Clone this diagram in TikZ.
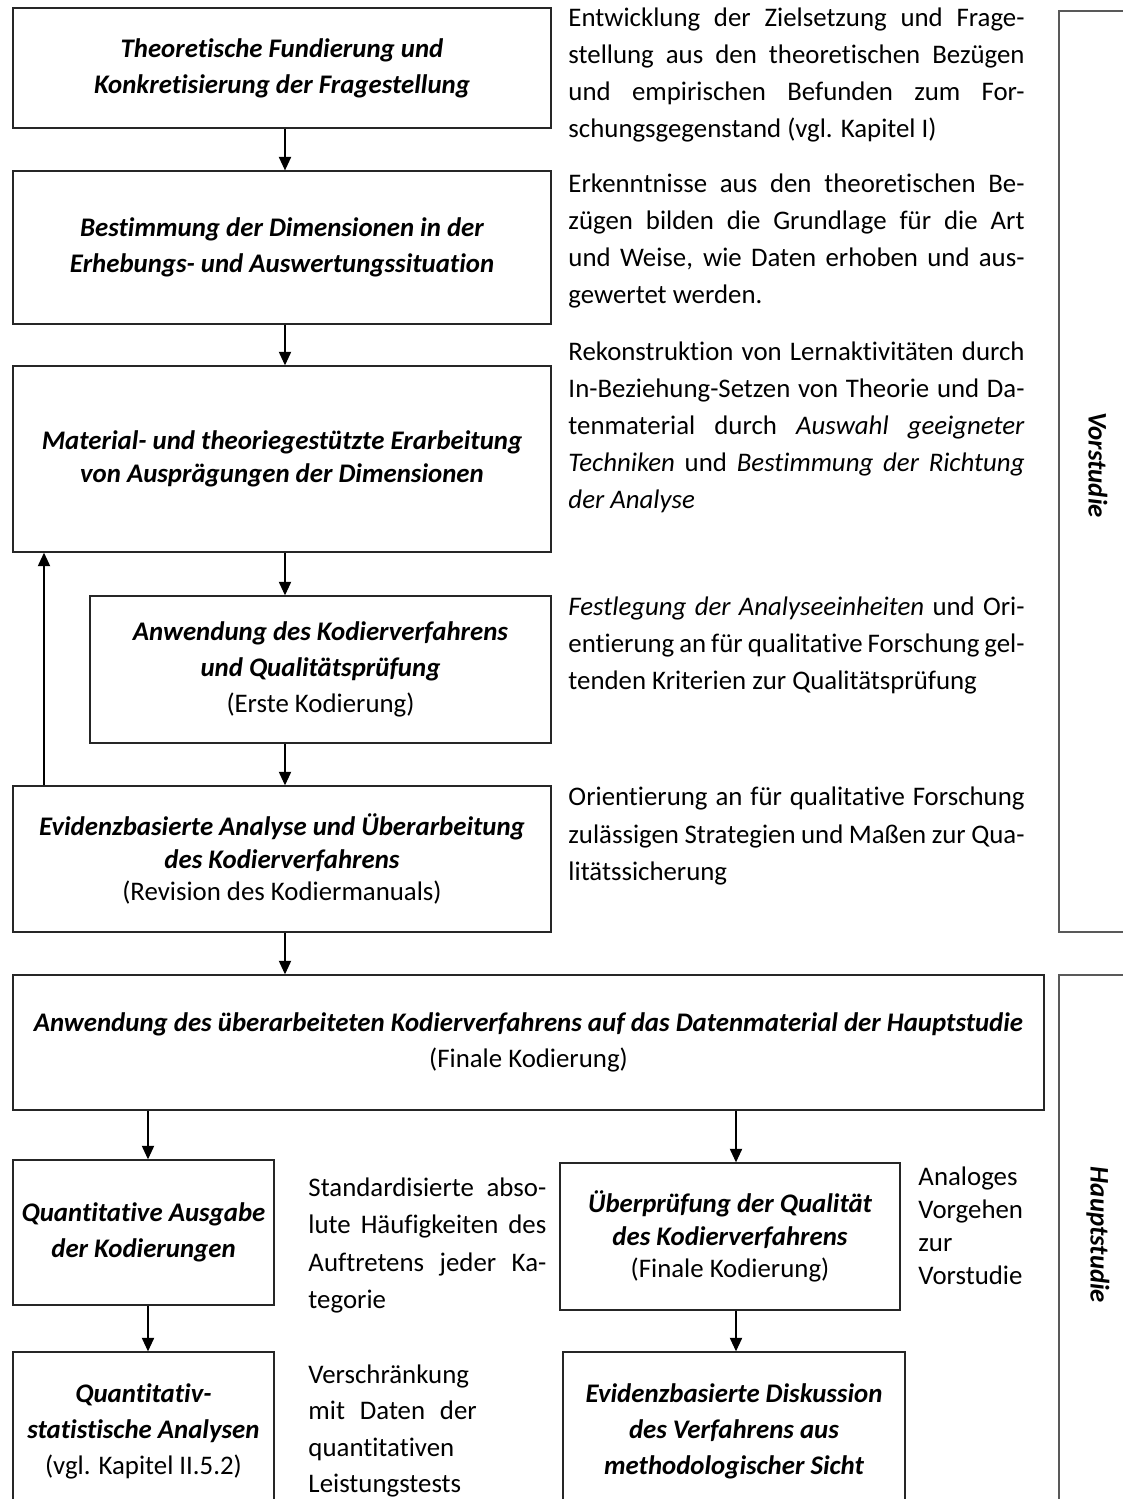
\documentclass[tikz,border=0pt]{standalone}
\usepackage{fontspec}
\setmainfont{Carlito}[Ligatures={NoCommon}]
\usetikzlibrary{arrows.meta}
\newcommand\bi[1]{{\bfseries\itshape #1}}
\begin{document}
\begin{tikzpicture}[x=0.41pt,y=-0.41pt,
  font=\fontsize{11}{15.2}\selectfont,
  stagebox/.style={draw=black!85, line width=0.55pt, inner sep=0pt, align=center,
    font=\fontsize{11}{14.8}\selectfont},
  tight/.style={font=\fontsize{11}{13.4}\selectfont},
  note/.style={anchor=west, inner sep=0pt, text width=187pt, align=justify,
    execute at begin node={\hyphenpenalty=10000\exhyphenpenalty=10000\tolerance=10000}},
  flow/.style={-{Triangle[length=5.5pt,width=5pt]}, line width=0.5pt, black},
  phase/.style={draw=black!65, line width=0.7pt},
  phaselabel/.style={rotate=-90, inner sep=0pt, font=\fontsize{11}{13}\selectfont\bfseries\itshape}]

\path[use as bounding box, clip] (0,0) rectangle (1123,1499);

% columns used by the connectors
\coordinate (cA) at (285,0);
\coordinate (cL) at (148,0);
\coordinate (cR) at (736,0);
\coordinate (fb) at (44,0);

% ---- Vorstudie ----
\node[stagebox, minimum width=220.6pt, minimum height=49.2pt] (b1) at (282,68)
  {\bi{Theoretische Fundierung und}\\\bi{Konkretisierung der Fragestellung}};
\node[stagebox, minimum width=220.6pt, minimum height=62.7pt] (b2) at (282,247.5)
  {\bi{Bestimmung der Dimensionen in der}\\\bi{Erhebungs- und Auswertungssituation}};
\node[stagebox, tight, minimum width=220.6pt, minimum height=76.3pt] (b3) at (282,459)
  {\bi{Material- und theoriegestützte Erarbeitung}\\\bi{von Ausprägungen der Dimensionen}};
\node[stagebox, minimum width=189.0pt, minimum height=60.3pt] (b4) at (320.5,669.5)
  {\bi{Anwendung des Kodierverfahrens}\\\bi{und Qualitätsprüfung}\\(Erste Kodierung)};
\node[stagebox, tight, minimum width=220.6pt, minimum height=59.9pt] (b5) at (282,859)
  {\bi{Evidenzbasierte Analyse und Überarbeitung}\\\bi{des Kodierverfahrens}\\(Revision des Kodiermanuals)};

% ---- Hauptstudie ----
\node[stagebox, minimum width=422.7pt, minimum height=55.4pt] (b6) at (528.5,1042.5)
  {\bi{Anwendung des überarbeiteten Kodierverfahrens auf das Datenmaterial der Hauptstudie}\\(Finale Kodierung)};
\node[stagebox, minimum width=107.0pt, minimum height=59.5pt] (b7) at (143.5,1232.5)
  {\bi{Quantitative Ausgabe}\\\bi{der Kodierungen}};
\node[stagebox, tight, minimum width=139.4pt, minimum height=60.3pt] (b8) at (730,1236.5)
  {\bi{Überprüfung der Qualität}\\\bi{des Kodierverfahrens}\\(Finale Kodierung)};
\node[stagebox, minimum width=107.0pt, minimum height=64.8pt] (b9) at (143.5,1431)
  {\bi{Quantitativ-}\\\bi{statistische Analysen}\\(vgl. Kapitel II.5.2)};
\node[stagebox, minimum width=140.2pt, minimum height=64.8pt] (b10) at (734,1431)
  {\bi{Evidenzbasierte Diskussion}\\\bi{des Verfahrens aus}\\\bi{methodologischer Sicht}};

% ---- explanations ----
\node[note] (n1) at (568,75)
  {Entwicklung der Zielsetzung und Frage-\linebreak stellung aus den theoretischen Bezügen\linebreak und empirischen Befunden zum For-\linebreak schungsgegenstand (vgl. Kapitel I)};
\node[note] (n2) at (568,241)
  {Erkenntnisse aus den theoretischen Be-\linebreak zügen bilden die Grundlage für die Art\linebreak und Weise, wie Daten erhoben und aus-\linebreak gewertet werden.};
\node[note] (n3) at (568,427)
  {Rekonstruktion von Lernaktivitäten durch\linebreak In-Beziehung-Setzen von Theorie und Da-\linebreak tenmaterial durch \textit{Auswahl geeigneter}\linebreak \textit{Techniken} und \textit{Bestimmung der Richtung}\linebreak \textit{der Analyse}};
\node[note] (n4) at (568,645.5)
  {\textit{Festlegung der Analyseeinheiten} und Ori-\linebreak entierung an für qualitative Forschung gel-\linebreak tenden Kriterien zur Qualitätsprüfung};
\node[note] (n5) at (568,836)
  {Orientierung an für qualitative Forschung\linebreak zulässigen Strategien und Maßen zur Qua-\linebreak litätssicherung};
\node[note, text width=97.5pt] (n6) at (308,1245.5)
  {Standardisierte abso-\linebreak lute Häufigkeiten des\linebreak Auftretens jeder Ka-\linebreak tegorie};
\node[note, text width=69pt, font=\fontsize{11}{14.8}\selectfont] (n7) at (308,1431)
  {Verschränkung\newline mit Daten der\linebreak quantitativen\newline Leistungstests};
\node[anchor=west, inner sep=0pt, align=left, font=\fontsize{11}{13.6}\selectfont] (n8) at (918,1226)
  {Analoges\\Vorgehen\\zur\\Vorstudie};

% ---- flow ----
\draw[flow] (b1.south -| cA) -- (b2.north -| cA);
\draw[flow] (b2.south -| cA) -- (b3.north -| cA);
\draw[flow] (b3.south -| cA) -- (b4.north -| cA);
\draw[flow] (b4.south -| cA) -- (b5.north -| cA);
\draw[flow] (b5.south -| cA) -- (b6.north -| cA);
\draw[flow] (b5.north -| fb) -- (b3.south -| fb);
\draw[flow] (b6.south -| cL) -- (b7.north -| cL);
\draw[flow] (b6.south -| cR) -- (b8.north -| cR);
\draw[flow] (b7.south -| cL) -- (b9.north -| cL);
\draw[flow] (b8.south -| cR) -- (b10.north -| cR);

% ---- phase brackets ----
\coordinate (v1) at (1123,11);
\coordinate (v2) at (1059,932);
\coordinate (v3) at (1123,932);
\coordinate (h1) at (1123,975);
\coordinate (h2) at (1059,1510);
\draw[phase] (v1) -| (v2) -- (v3);
\draw[phase] (h1) -| (h2);
\node[phaselabel] (pv) at (1098,465) {Vorstudie};
\node[phaselabel] (ph) at (1098,1235) {Hauptstudie};
\end{tikzpicture}
\end{document}
